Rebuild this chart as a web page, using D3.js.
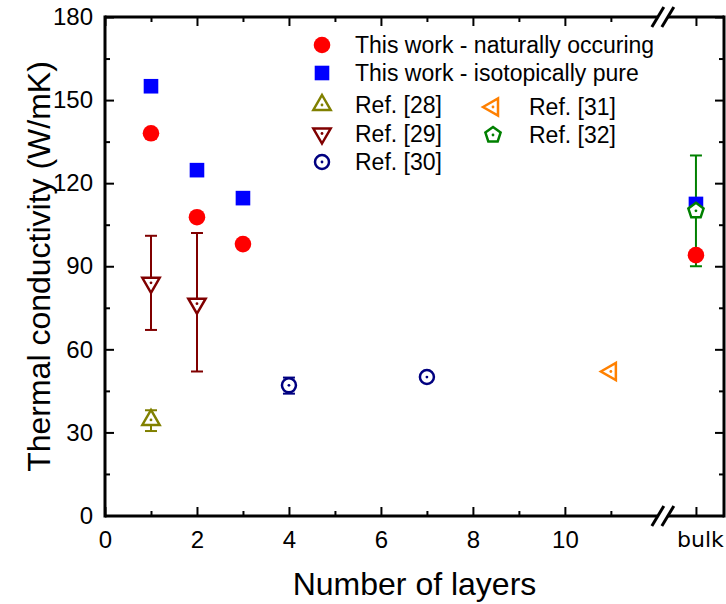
<!DOCTYPE html>
<html>
<head>
<meta charset="utf-8">
<script src="https://cdn.jsdelivr.net/npm/d3@7"></script>
<style>
  body { margin: 0; background: #fff; }
  svg text { font-family: "Liberation Sans", Arial, sans-serif; fill: #000; }
</style>
</head>
<body>
<svg id="chart" width="726" height="604"></svg>
<script>
// ---- data ----
const naturalLayers = [1, 2, 3, "bulk"];
const naturalK = [138, 107.7, 98, 94];

const pureLayers = [1, 2, 3, "bulk"];
const pureK = [155, 124.7, 114.6, 112.5];

const ref28Layers = [1];
const ref28K = [34.5];
const ref28Lo = [30.5];
const ref28Hi = [38];

const ref29Layers = [1, 2];
const ref29K = [84, 76.5];
const ref29Lo = [67, 52];
const ref29Hi = [101, 102];

const ref30Layers = [4, 7];
const ref30K = [47, 50];
const ref30Lo = [44, 48.5];
const ref30Hi = [49.8, 51.5];

const ref31Layers = [11];
const ref31K = [52];

const ref32Layers = ["bulk"];
const ref32K = [110];
const ref32Lo = [90];
const ref32Hi = [130];

const xMajor = [0, 2, 4, 6, 8, 10];
const xMinor = [1, 3, 5, 7, 9, 11];
const yMajor = [0, 30, 60, 90, 120, 150, 180];
const yMinor = [15, 45, 75, 105, 135, 165];

// ---- layout ----
const plotL = 105, plotR = 724, plotT = 17, plotB = 516;
const bulkPos = 12.85;   // where "bulk" sits past the axis break
const breakPos = 12.13;

const svg = d3.select("#chart");

const x = d3.scaleLinear().domain([0, 13.46]).range([plotL, plotR]);
const y = d3.scaleLinear().domain([0, 180]).range([plotB - 0.5, plotT]);
const xPos = v => v === "bulk" ? x(bulkPos) : x(v);

const zip = (layers, k, lo, hi) => layers.map((l, i) => ({
  l: l, k: k[i], lo: lo ? lo[i] : null, hi: hi ? hi[i] : null
}));

// ---- axes (ticks pointing inward) ----
const xTicks = xMajor.concat([bulkPos]);
const fmtX = d => d === bulkPos ? "bulk" : d;

function styleAxis(g) {
  g.select(".domain").remove();
  g.selectAll(".tick line").attr("stroke", "#000").attr("stroke-width", 2);
  g.selectAll(".tick text").style("font-size", "24px")
    .style("font-family", '"Liberation Sans", Arial, sans-serif');
}

const xAxisG = svg.append("g").attr("transform", "translate(0," + plotB + ")")
  .call(d3.axisBottom(x).tickValues(xTicks).tickFormat(fmtX).tickSizeInner(-9).tickSizeOuter(0).tickPadding(15))
  .call(styleAxis);
// the "bulk" label is set in a different face in the original
xAxisG.selectAll(".tick text").filter(d => d === bulkPos)
  .style("font-family", '"DejaVu Sans", sans-serif').style("font-size", "22px")
  .attr("x", 4);
svg.append("g").attr("transform", "translate(0," + plotB + ")")
  .call(d3.axisBottom(x).tickValues(xMinor).tickFormat("").tickSizeInner(-5).tickSizeOuter(0))
  .call(styleAxis);
svg.append("g").attr("transform", "translate(0," + plotT + ")")
  .call(d3.axisTop(x).tickValues(xTicks).tickFormat("").tickSizeInner(-9).tickSizeOuter(0))
  .call(styleAxis);
svg.append("g").attr("transform", "translate(0," + plotT + ")")
  .call(d3.axisTop(x).tickValues(xMinor).tickFormat("").tickSizeInner(-5).tickSizeOuter(0))
  .call(styleAxis);

svg.append("g").attr("transform", "translate(" + plotL + ",0)")
  .call(d3.axisLeft(y).tickValues(yMajor).tickSizeInner(-9).tickSizeOuter(0).tickPadding(12))
  .call(styleAxis);
svg.append("g").attr("transform", "translate(" + plotL + ",0)")
  .call(d3.axisLeft(y).tickValues(yMinor).tickFormat("").tickSizeInner(-5).tickSizeOuter(0))
  .call(styleAxis);
svg.append("g").attr("transform", "translate(" + plotR + ",0)")
  .call(d3.axisRight(y).tickValues(yMajor).tickFormat("").tickSizeInner(-9).tickSizeOuter(0))
  .call(styleAxis);
svg.append("g").attr("transform", "translate(" + plotR + ",0)")
  .call(d3.axisRight(y).tickValues(yMinor).tickFormat("").tickSizeInner(-5).tickSizeOuter(0))
  .call(styleAxis);

// frame with a gap at the break
const bx = x(breakPos);
const frame = svg.append("g").attr("stroke", "#000").attr("stroke-width", 3).attr("fill", "none");
frame.append("line").attr("x1", plotL).attr("x2", plotL).attr("y1", plotT - 1.5).attr("y2", plotB + 1.5);
frame.append("line").attr("x1", plotR).attr("x2", plotR).attr("y1", plotT - 1.5).attr("y2", plotB + 1.5);
[plotT, plotB].forEach(yy => {
  frame.append("line").attr("x1", plotL).attr("x2", bx - 5).attr("y1", yy).attr("y2", yy);
  frame.append("line").attr("x1", bx + 5).attr("x2", plotR).attr("y1", yy).attr("y2", yy);
  [-5, 5].forEach(o => {
    frame.append("line")
      .attr("x1", bx + o - 6).attr("y1", yy + 10)
      .attr("x2", bx + o + 6).attr("y2", yy - 10);
  });
});

// ---- axis titles ----
svg.append("text").attr("x", (plotL + plotR) / 2).attr("y", 595)
  .attr("text-anchor", "middle").style("font-size", "32px").text("Number of layers");
svg.append("text").attr("transform", "translate(50," + ((plotT + plotB) / 2) + ") rotate(-90)")
  .attr("text-anchor", "middle").style("font-size", "32px").text("Thermal conductivity (W/mK)");

// ---- marker shapes ----
function poly(pts) { return "M" + pts.map(p => p[0].toFixed(2) + "," + p[1].toFixed(2)).join("L") + "Z"; }
const s60 = Math.sin(Math.PI / 3);
const shapes = {
  up: R => poly([[0, -R], [R * s60, R / 2], [-R * s60, R / 2]]),
  down: R => poly([[0, R], [R * s60, -R / 2], [-R * s60, -R / 2]]),
  left: R => poly([[-R, 0], [R / 2, -R * s60], [R / 2, R * s60]]),
  pent: R => poly(d3.range(5).map(i => {
    const a = -Math.PI / 2 + i * 2 * Math.PI / 5;
    return [R * Math.cos(a), R * Math.sin(a)];
  })),
  circ: R => d3.arc()({ innerRadius: 0, outerRadius: R, startAngle: 0, endAngle: 2 * Math.PI })
};

function hollow(g, shape, R, color) {
  g.append("path").attr("d", shapes[shape](R))
    .attr("fill", "#fff").attr("stroke", color).attr("stroke-width", 2.5);
  g.append("circle").attr("r", 1.4).attr("fill", color);
}

const refs = [
  { name: "Ref. [28]", shape: "up", R: 10, color: "#808000", data: zip(ref28Layers, ref28K, ref28Lo, ref28Hi) },
  { name: "Ref. [29]", shape: "down", R: 10, color: "#800000", data: zip(ref29Layers, ref29K, ref29Lo, ref29Hi) },
  { name: "Ref. [30]", shape: "circ", R: 7, color: "#000080", data: zip(ref30Layers, ref30K, ref30Lo, ref30Hi) },
  { name: "Ref. [31]", shape: "left", R: 10, color: "#ff8000", data: zip(ref31Layers, ref31K) },
  { name: "Ref. [32]", shape: "pent", R: 8, color: "#008000", data: zip(ref32Layers, ref32K, ref32Lo, ref32Hi) }
];

// error bars first
refs.forEach(r => {
  const eb = svg.append("g").attr("stroke", r.color).attr("stroke-width", 2);
  r.data.filter(d => d.lo !== null).forEach(d => {
    const cx = xPos(d.l);
    eb.append("line").attr("x1", cx).attr("x2", cx).attr("y1", y(d.lo)).attr("y2", y(d.hi));
    [d.lo, d.hi].forEach(v => eb.append("line")
      .attr("x1", cx - 6).attr("x2", cx + 6).attr("y1", y(v)).attr("y2", y(v)));
  });
});

// this work
svg.append("g").selectAll("circle").data(zip(naturalLayers, naturalK)).join("circle")
  .attr("cx", d => xPos(d.l)).attr("cy", d => y(d.k)).attr("r", 8.3).attr("fill", "#ff0000");
svg.append("g").selectAll("rect").data(zip(pureLayers, pureK)).join("rect")
  .attr("x", d => xPos(d.l) - 7.3).attr("y", d => y(d.k) - 7.3)
  .attr("width", 14.6).attr("height", 14.6).attr("fill", "#0000ff");

// reference markers
refs.forEach(r => {
  r.data.forEach(d => {
    const g = svg.append("g").attr("transform", "translate(" + xPos(d.l) + "," + y(d.k) + ")");
    hollow(g, r.shape, r.R, r.color);
  });
});

// ---- legend ----
const legend = svg.append("g");
const lg1 = legend.append("g").attr("transform", "translate(322,45)");
lg1.append("circle").attr("r", 8.3).attr("fill", "#ff0000");
lg1.append("text").attr("x", 33).attr("dy", "0.36em").style("font-size", "23px").text("This work - naturally occuring");
const lg2 = legend.append("g").attr("transform", "translate(322,73)");
lg2.append("rect").attr("x", -7.3).attr("y", -7.3).attr("width", 14.6).attr("height", 14.6).attr("fill", "#0000ff");
lg2.append("text").attr("x", 33).attr("dy", "0.36em").style("font-size", "23px").text("This work - isotopically pure");

const legendPos = [[322, 105], [322, 133.5], [322, 162], [493, 107], [493, 135]];
refs.forEach((r, i) => {
  const g = legend.append("g").attr("transform", "translate(" + legendPos[i][0] + "," + legendPos[i][1] + ")");
  hollow(g, r.shape, r.R, r.color);
  g.append("text").attr("x", i < 3 ? 33 : 36).attr("dy", "0.36em").style("font-size", "23px").text(r.name);
});
</script>
</body>
</html>
